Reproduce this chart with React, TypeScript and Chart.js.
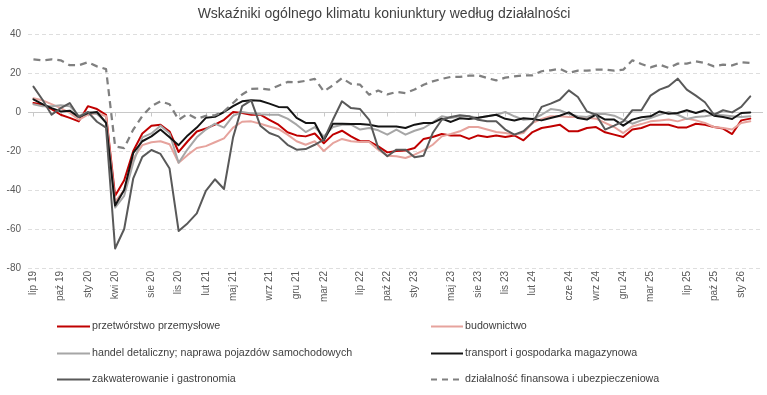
import { useEffect, useRef } from "react";
import { Chart, registerables } from "chart.js";
Chart.register(...registerables);

const TITLE = "Wskaźniki ogólnego klimatu koniunktury według działalności";

const CATEGORIES = [
  "lip 19","sie 19","wrz 19","paź 19","lis 19","gru 19",
  "sty 20","lut 20","mar 20","kwi 20","maj 20","cze 20","lip 20","sie 20","wrz 20","paź 20","lis 20","gru 20",
  "sty 21","lut 21","mar 21","kwi 21","maj 21","cze 21","lip 21","sie 21","wrz 21","paź 21","lis 21","gru 21",
  "sty 22","lut 22","mar 22","kwi 22","maj 22","cze 22","lip 22","sie 22","wrz 22","paź 22","lis 22","gru 22",
  "sty 23","lut 23","mar 23","kwi 23","maj 23","cze 23","lip 23","sie 23","wrz 23","paź 23","lis 23","gru 23",
  "sty 24","lut 24","mar 24","kwi 24","maj 24","cze 24","lip 24","sie 24","wrz 24","paź 24","lis 24","gru 24",
  "sty 25","lut 25","mar 25","kwi 25","maj 25","cze 25","lip 25","sie 25","wrz 25","paź 25","lis 25","gru 25",
  "sty 26","lut 26",
];

const TICK_LABELS = [
  "lip 19","paź 19","sty 20","kwi 20","sie 20","lis 20","lut 21","maj 21","wrz 21","gru 21","mar 22",
  "lip 22","paź 22","sty 23","maj 23","sie 23","lis 23","lut 24","cze 24","wrz 24","gru 24","mar 25",
  "lip 25","paź 25","sty 26",
];

const Y_TICKS = [-80, -60, -40, -20, 0, 20, 40];

const MANUFACTURING = [
  4.6, 3.8, 1.5, -1.4, -3, -4.8, 3, 1.5, -1.4, -43, -35, -20, -11, -7, -6.5, -10, -20.5, -15, -10, -8.5, -6.5, -4, 0, -0.5, -1.4, -1.4,
  -4, -6.5, -10.4, -12, -12.5, -11, -16, -11.6, -9.6, -12.5, -15, -15, -17.6, -20.7, -20, -19.7, -18.5, -13.8, -12.8, -11.3, -12, -12, -13.8, -12, -12.8, -12, -12.8,
  -12, -14.5, -10.3, -8.2, -7.4, -6.5, -9.9, -9.9, -8.2, -7.7, -10.4, -11.6, -12.8, -9, -8.2, -6.5, -6.5, -6.5, -7.9, -7.9, -6, -6.5, -7.7, -8.5, -11.3, -4.3, -3.4,
];

const CONSTRUCTION = [
  7, 6, 4, 2, -0.5, -4, -1.4, -0.5, -2.2, -46, -40, -24, -17, -15.5, -15, -16.5, -26, -22, -18.5, -17.5, -15.5, -13.5, -8, -5, -4.8, -6,
  -7.4, -8.7, -11.6, -15, -16.8, -15, -20, -16, -13.8, -15, -15.4, -15.4, -19.3, -22.4, -22.7, -23.6, -21.9, -19.7, -16.8, -12.5, -11.3, -9.9, -7.7, -7.7, -9, -10.3, -10.8,
  -11.6, -10.8, -5.6, -3.6, -2.2, -2.2, -2.6, -2.6, -3, -3.4, -5.6, -7.7, -10.8, -7.4, -6.2, -4.8, -4.3, -3.9, -4.8, -3.4, -4.3, -5.6, -7.7, -8.2, -9, -5.6, -4.8,
];

const RETAIL = [
  4, 3, 3, 3.5, 3, -2, 0, -1, -5, -49, -43, -26, -13, -11, -7, -11, -26, -19, -13, -9, -6, -8, -2, 0, -0.7, -1.2,
  -1.4, -1.4, -3.4, -6.5, -10.3, -7.7, -12.5, -7.7, -6.5, -6.5, -9, -8.2, -9.4, -11.6, -9, -11.6, -9.6, -8.2, -5.3, -2.2, -3.1, -2.2, -2.2, -3, -2.2, -1.4, 0,
  -2.2, -4, -3.6, -1.4, 1.5, 0.9, -1, -2.2, -2.6, -1, -1, -1.9, -4, -6, -4.3, -3.1, -1.4, 0, -1.4, -3.6, -2.6, -2.2, -1.4, -1.7, -2.2, -2.6, -2.2,
];

const TRANSPORT = [
  6.5, 4, 2, 0.3, 0.7, -2.6, -0.5, 0, -5.6, -48, -40, -21, -15, -12.5, -9, -13, -17, -12, -8, -3, -2.5, 0, 3, 5.5, 6, 5.8,
  4.3, 2.6, 2.4, -3, -5.6, -5.6, -14.5, -6, -6, -6.2, -6.2, -6.5, -7.4, -7.4, -7.4, -8.2, -6.5, -5.6, -5.6, -3.4, -5.1, -3.2, -3.6, -3, -2.2, -1.4, -3.5,
  -4.4, -3.2, -3.6, -4.3, -3.1, -1.9, -0.2, -3.1, -3.9, -1.4, -3.9, -3.9, -7, -3.9, -2.7, -2.2, 0.3, -0.9, -0.5, 0.9, -0.5, 0.9, -1.9, -2.6, -3.6, -0.5, -0.2,
];

const ACCOMMODATION = [
  13, 6.3, -1.4, 2, 4.6, -2.6, 0, -5, -8, -70, -60, -34, -23, -19.5, -21.5, -29, -61, -57, -52, -40.5, -34.5, -39.5, -13, 3, 6, -7,
  -10.8, -12.5, -16.8, -19.3, -19, -16.8, -14.2, -4, 5.5, 2, 1.5, -4, -18.5, -22.7, -19.3, -19.3, -23.2, -22.4, -10.8, -4, -2.6, -1.7, -2.2, -4, -4.8, -4.8, -9,
  -11.6, -9.9, -5.6, 2.6, 4.3, 6.3, 11.1, 7.7, 0.3, -1.4, -9, -7, -4.8, 0.9, 0.9, 8.4, 11.5, 13.2, 17.1, 11.5, 8.4, 5, -1.4, 0.9, -0.2, 2.6, 8,
];

const FINANCE = [
  27, 26.5, 27, 26.5, 24, 24, 25.5, 23.4, 22, -17.6, -18.5, -9, -2, 3, 5.5, 4, -4, -1, -3.5, -2, -1.7, 0.3, 4.6, 9, 11.8, 12,
  11.5, 13.5, 15.4, 15.2, 16, 17, 10.6, 13.7, 17.4, 14.4, 14, 8.9, 11, 9, 10.3, 9.7, 11.5, 14, 15.7, 17, 18, 18, 18.6, 18.8, 17.4, 16.2, 17.6,
  18.3, 18.8, 18.8, 20.9, 21.4, 22.2, 20, 21.2, 21.2, 21.7, 21.7, 21.2, 21.7, 26.5, 24.6, 22.9, 24.3, 22.6, 24.8, 24.8, 26, 25.1, 23.4, 24.3, 23.9, 25.5, 25.1,
];

const SERIES = [
  { label: "przetwórstwo przemysłowe", data: MANUFACTURING, color: "#C00000", dash: [] as number[] },
  { label: "budownictwo", data: CONSTRUCTION, color: "#E6A39D", dash: [] as number[] },
  { label: "handel detaliczny; naprawa pojazdów samochodowych", data: RETAIL, color: "#A6A6A6", dash: [] as number[] },
  { label: "transport i gospodarka magazynowa", data: TRANSPORT, color: "#141414", dash: [] as number[] },
  { label: "zakwaterowanie i gastronomia", data: ACCOMMODATION, color: "#595959", dash: [] as number[] },
  { label: "działalność finansowa i ubezpieczeniowa", data: FINANCE, color: "#808080", dash: [7, 5] },
];

const FONT = '"Liberation Sans", Arial, sans-serif';

const decorPlugin = {
  id: "decor",
  beforeDraw(chart: any) {
    const ctx = chart.ctx;
    ctx.save();
    ctx.fillStyle = "#ffffff";
    ctx.fillRect(0, 0, chart.width, chart.height);
    ctx.fillStyle = "#404040";
    ctx.font = `14px ${FONT}`;
    ctx.textAlign = "center";
    ctx.textBaseline = "middle";
    ctx.fillText(TITLE, 384, 14);
    ctx.restore();
  },
  beforeDatasetsDraw(chart: any) {
    const { ctx, chartArea } = chart;
    const y = chart.scales.y;
    const x = chart.scales.x;
    ctx.save();
    ctx.lineWidth = 1;
    for (const v of Y_TICKS) {
      const py = Math.round(y.getPixelForValue(v)) + 0.5;
      ctx.beginPath();
      if (v === 0) {
        ctx.setLineDash([]);
        ctx.strokeStyle = "#c8c8c8";
      } else {
        ctx.setLineDash([4, 3]);
        ctx.strokeStyle = "#dedede";
      }
      ctx.moveTo(chartArea.left, py);
      ctx.lineTo(chartArea.right, py);
      ctx.stroke();
    }
    ctx.setLineDash([]);
    ctx.strokeStyle = "#c8c8c8";
    const p0 = Math.round(y.getPixelForValue(0)) + 0.5;
    for (const lab of TICK_LABELS) {
      const idx = CATEGORIES.indexOf(lab);
      const px = Math.round(x.getPixelForValue(idx)) + 0.5;
      ctx.beginPath();
      ctx.moveTo(px, p0);
      ctx.lineTo(px, p0 + 4);
      ctx.stroke();
    }
    ctx.restore();
  },
  afterDraw(chart: any) {
    const ctx = chart.ctx;
    ctx.save();
    ctx.font = `10.7px ${FONT}`;
    ctx.textBaseline = "middle";
    ctx.textAlign = "left";
    const rows = [326, 352.5, 379];
    const cols = [
      { x0: 57, x1: 90, tx: 92 },
      { x0: 431, x1: 463, tx: 465 },
    ];
    SERIES.forEach((s, i) => {
      const c = cols[i % 2];
      const ry = Math.round(rows[Math.floor(i / 2)]) + 0.5;
      ctx.beginPath();
      ctx.setLineDash(s.dash.length ? [6, 5] : []);
      ctx.strokeStyle = s.color;
      ctx.lineWidth = 2;
      ctx.moveTo(c.x0, ry);
      ctx.lineTo(c.x1, ry);
      ctx.stroke();
      ctx.setLineDash([]);
      ctx.fillStyle = "#404040";
      ctx.fillText(s.label, c.tx, ry);
    });
    ctx.restore();
  },
};

export default function App() {
  const ref = useRef<HTMLCanvasElement | null>(null);
  useEffect(() => {
    document.body.style.margin = "0";
    const tickIdx = TICK_LABELS.map((l) => CATEGORIES.indexOf(l));
    const chart = new Chart(ref.current as HTMLCanvasElement, {
      type: "line",
      data: {
        datasets: SERIES.map((s, i) => ({
          label: s.label,
          data: s.data.map((v, k) => ({ x: k, y: v })),
          borderColor: s.color,
          backgroundColor: s.color,
          borderWidth: i === 5 ? 2.25 : 2,
          borderDash: s.dash,
          borderJoinStyle: "round" as const,
          borderCapStyle: (s.dash.length ? "butt" : "round") as any,
          pointRadius: 0,
          pointHoverRadius: 0,
          tension: 0,
          fill: false,
          order: 5 - i,
        })),
      },
      options: {
        responsive: false,
        devicePixelRatio: 1,
        animation: false,
        events: [],
        layout: { padding: { top: 34, right: 4, bottom: 87, left: 0 } },
        plugins: {
          legend: { display: false },
          title: { display: false },
          tooltip: { enabled: false },
        },
        scales: {
          x: {
            type: "linear",
            min: -0.6,
            max: 80.4,
            afterBuildTicks: (scale: any) => {
              scale.ticks = tickIdx.map((v) => ({ value: v }));
            },
            afterFit: (scale: any) => {
              scale.height = 40;
            },
            grid: { display: false, drawTicks: false },
            border: { display: false },
            ticks: {
              autoSkip: false,
              minRotation: 90,
              maxRotation: 90,
              padding: 3,
              color: "#595959",
              font: { size: 10, family: FONT },
              callback: (v: any) => CATEGORIES[Math.round(Number(v))] ?? "",
            },
          },
          y: {
            min: -80,
            max: 40,
            afterFit: (scale: any) => {
              scale.width = 28;
            },
            grid: { display: false, drawTicks: false },
            border: { display: false },
            ticks: {
              stepSize: 20,
              padding: 7,
              color: "#595959",
              font: { size: 10, family: FONT },
            },
          },
        },
      },
      plugins: [decorPlugin],
    } as any);
    return () => chart.destroy();
  }, []);
  return (
    <div style={{ width: 767, height: 395 }}>
      <canvas ref={ref} width={767} height={395} style={{ display: "block", width: 767, height: 395 }} />
    </div>
  );
}
